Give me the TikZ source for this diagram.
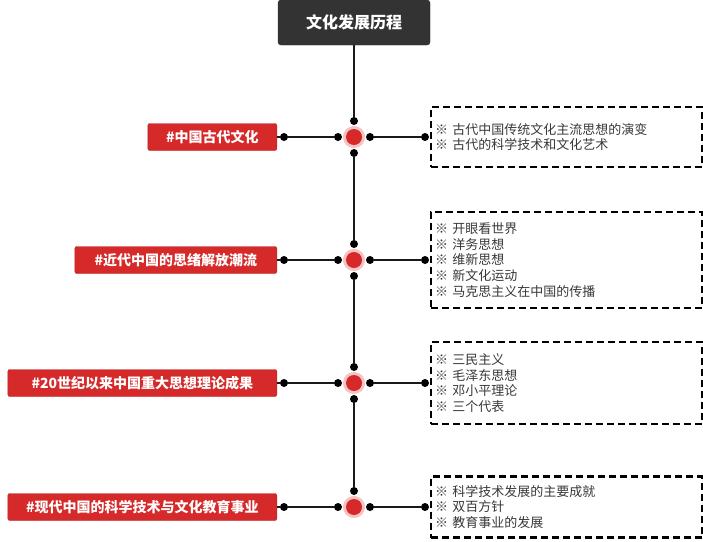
\documentclass[tikz,border=0pt]{standalone}
\usepackage{fontspec}
\setmainfont{Noto Sans CJK SC}
\usetikzlibrary{positioning}
\definecolor{hubred}{RGB}{214, 42, 42}
\definecolor{titlegray}{RGB}{51, 51, 51}
\definecolor{itemgray}{RGB}{55, 55, 55}

\begin{document}
\begin{tikzpicture}[
    x=1pt, y=-1pt,
    title/.style={rectangle, rounded corners=3pt, draw=black!85,
                  fill=titlegray, text=white, minimum width=152pt,
                  minimum height=45pt, font=\fontsize{16}{18}\selectfont\bfseries},
    topic/.style={rectangle, rounded corners=2pt, draw=hubred!85!black,
                  fill=hubred, text=white, minimum height=27pt, inner xsep=0pt,
                  font=\fontsize{14}{16}\selectfont\bfseries},
    notes/.style={rectangle, draw=black, line width=2.3pt,
                  dash pattern=on 7pt off 4pt, minimum width=271pt,
                  text width=263pt, inner xsep=4pt, align=left, text=itemgray,
                  font=\fontsize{13}{15.7}\selectfont},
    hub/.style={circle, minimum size=16pt, inner sep=0pt, fill=hubred,
                preaction={draw=hubred!28, line width=6pt}},
    dot/.style={circle, fill=black, minimum size=8pt, inner sep=0pt},
    link/.style={line width=1.4pt, black!90}
]
\useasboundingbox (0,0) rectangle (703,541);

\node[title] (title) at (354,22.5) {文化发展历程};

\foreach \n/\y/\lab/\w/\h/\items in {
    1/137/{\#中国古代文化}/129/60/{※ 古代中国传统文化主流思想的演变\\※ 古代的科学技术和文化艺术},
    2/260/{\#近代中国的思绪解放潮流}/202/96/{※ 开眼看世界\\※ 洋务思想\\※ 维新思想\\※ 新文化运动\\※ 马克思主义在中国的传播},
    3/383/{\#20世纪以来中国重大思想理论成果}/269/82/{※ 三民主义\\※ 毛泽东思想\\※ 邓小平理论\\※ 三个代表},
    4/507/{\#现代中国的科学技术与文化教育事业}/269/61/{※ 科学技术发展的主要成就\\※ 双百方针\\※ 教育事业的发展}}{
  \node[hub] (hub\n) at (354,\y) {};
  \node[dot] (dl\n) at (338,\y) {};
  \node[dot] (dr\n) at (370,\y) {};
  \node[dot] (dt\n) at (354,\y-16) {};
  \ifnum\n<4 \node[dot] (db\n) at (354,\y+16) {}; \fi
  \node[dot] (tl\n) at (284,\y) {};
  \node[dot] (nl\n) at (425,\y) {};
  \node[topic, minimum width=\w pt, anchor=east] (topic\n) at (277,\y) {\lab};
  \node[notes, minimum height=\h pt, anchor=west] (notes\n) at (430,\y) {\items};
  % branches
  \draw[link] (topic\n) -- (tl\n) -- (dl\n);
  \draw[link] (dr\n) -- (nl\n);
}

% trunk
\draw[link] (title) -- (dt1);
\draw[link] (db1) -- (dt2);
\draw[link] (db2) -- (dt3);
\draw[link] (db3) -- (dt4);
\end{tikzpicture}
\end{document}
